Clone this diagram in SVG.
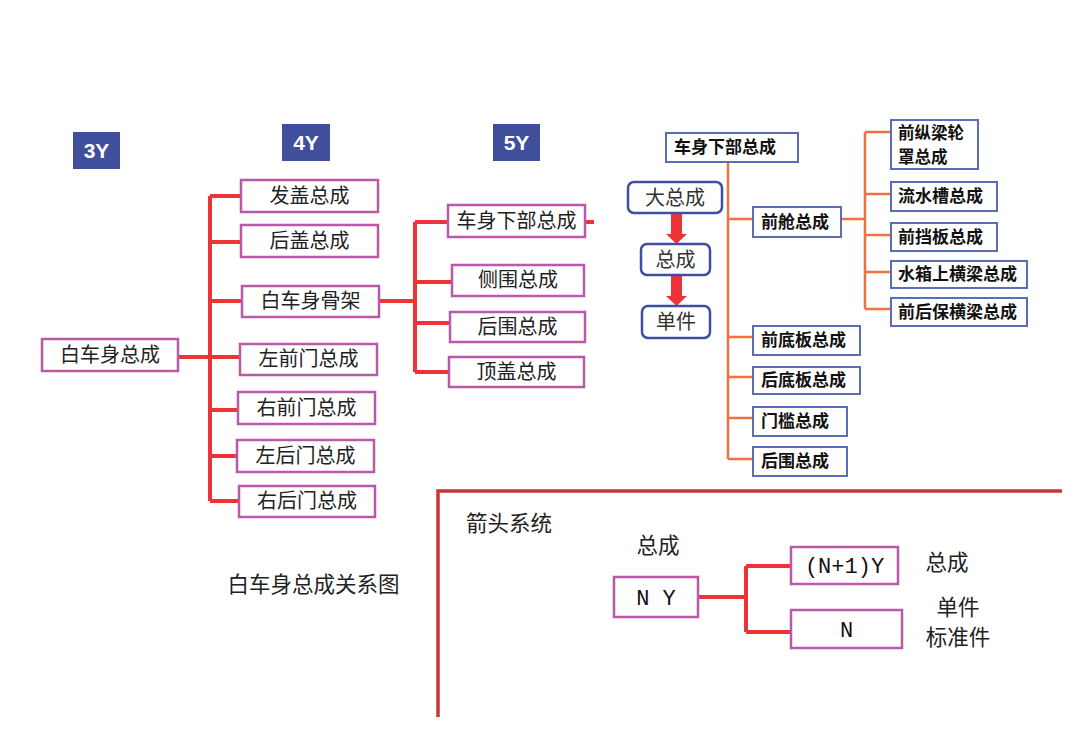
<svg xmlns="http://www.w3.org/2000/svg" width="1080" height="748" viewBox="0 0 1080 748">
<style>
text{font-family:"Noto Sans CJK SC","Liberation Sans",sans-serif;fill:#222}
.mb{fill:#fff;stroke:#b95aa6;stroke-width:2.5}
.bb{fill:#fff;stroke:#5b6db5;stroke-width:2}
.fb{fill:#fff;stroke:#3d4f9e;stroke-width:2.5}
.badge{fill:#3f4f9b}
.bt{font-family:"Liberation Sans",sans-serif;font-weight:bold;font-size:21px;fill:#fff}
.t20{font-size:20px;text-anchor:middle}
.t21{font-size:21.5px;text-anchor:middle}
.tb{font-size:17px;font-weight:bold;fill:#111}
.mono{font-family:"Liberation Mono","DejaVu Sans Mono",monospace;font-size:22px;fill:#111;text-anchor:middle}
.red{stroke:#ee3338;stroke-width:4;fill:none}
.org{stroke:#f07040;stroke-width:2.5;fill:none}
.frame{stroke:#c8363d;stroke-width:3.5;fill:none}
</style>
<g id="connectors">
<path class="red" d="M178 357H240M210 196V501M210 196H241M210 242H241M210 301H242M210 410H238M210 456H237M210 501H239"/>
<path class="red" d="M379 301H415M415 222V372M415 222H448M415 282H452M415 323H450M415 372H449M585 222H594"/>
<path class="org" d="M728 162V459M728 219H753M728 337H753M728 377H753M728 418H753M728 459H753M841 219H865M865 132V309M865 132H891M865 194H891M865 235H891M865 272H891M865 309H891"/>
<path class="red" d="M698 597H746M746 566V632M746 566H791M746 632H791"/>
<path fill="#ee3338" d="M671 213H682V234H687L676.5 244L666 234H671Z M671 275H682V296H687L676.5 306L666 296H671Z"/>
</g>
<g id="badge-3y"><rect class="badge" x="73" y="132" width="47" height="37"/><text class="bt" x="96.5" y="158" text-anchor="middle">3Y</text></g>
<g id="badge-4y"><rect class="badge" x="282" y="124" width="48" height="37"/><text class="bt" x="306" y="150" text-anchor="middle">4Y</text></g>
<g id="badge-5y"><rect class="badge" x="493" y="124" width="47" height="37"/><text class="bt" x="516.5" y="150" text-anchor="middle">5Y</text></g>
<g id="n-baicheshen"><rect class="mb" x="42" y="339" width="136" height="32"/><text class="t20" x="110" y="362">白车身总成</text></g>
<g id="n-fagai"><rect class="mb" x="241" y="180" width="137" height="32"/><text class="t20" x="309.5" y="203">发盖总成</text></g>
<g id="n-hougai"><rect class="mb" x="241" y="225" width="137" height="32"/><text class="t20" x="309.5" y="248">后盖总成</text></g>
<g id="n-gujia"><rect class="mb" x="242" y="286" width="137" height="31"/><text class="t20" x="310.5" y="308">白车身骨架</text></g>
<g id="n-zqm"><rect class="mb" x="240" y="344" width="137" height="31"/><text class="t20" x="308.5" y="366">左前门总成</text></g>
<g id="n-yqm"><rect class="mb" x="238" y="392" width="137" height="32"/><text class="t20" x="306.5" y="415">右前门总成</text></g>
<g id="n-zhm"><rect class="mb" x="237" y="440" width="137" height="32"/><text class="t20" x="305.5" y="463">左后门总成</text></g>
<g id="n-yhm"><rect class="mb" x="239" y="486" width="136" height="31"/><text class="t20" x="307" y="508">右后门总成</text></g>
<g id="n-xiabu"><rect class="mb" x="448" y="205" width="137" height="32"/><text class="t20" x="516.5" y="228">车身下部总成</text></g>
<g id="n-cewei"><rect class="mb" x="452" y="265" width="132" height="31"/><text class="t20" x="518" y="287">侧围总成</text></g>
<g id="n-houwei"><rect class="mb" x="450" y="312" width="135" height="30"/><text class="t20" x="517.5" y="334">后围总成</text></g>
<g id="n-dinggai"><rect class="mb" x="449" y="357" width="135" height="30"/><text class="t20" x="516.5" y="379">顶盖总成</text></g>
<g id="r-xiabu"><rect class="bb" x="666" y="133" width="132" height="29"/><text class="tb" x="674" y="153">车身下部总成</text></g>
<g id="r-qiancang"><rect class="bb" x="753" y="207" width="88" height="30"/><text class="tb" x="761" y="228">前舱总成</text></g>
<g id="r-zongliang"><rect class="bb" x="891" y="120" width="87" height="49"/><text class="tb" style="font-size:16.5px"><tspan x="898" y="139">前纵梁轮</tspan><tspan x="898" y="163">罩总成</tspan></text></g>
<g id="r-liushui"><rect class="bb" x="891" y="182" width="106" height="29"/><text class="tb" x="898" y="202">流水槽总成</text></g>
<g id="r-dangban"><rect class="bb" x="891" y="223" width="106" height="28"/><text class="tb" x="898" y="243">前挡板总成</text></g>
<g id="r-shuixiang"><rect class="bb" x="891" y="261" width="136" height="27"/><text class="tb" x="898" y="280">水箱上横梁总成</text></g>
<g id="r-baoxian"><rect class="bb" x="891" y="298" width="136" height="28"/><text class="tb" x="898" y="318">前后保横梁总成</text></g>
<g id="r-qiandi"><rect class="bb" x="753" y="326" width="107" height="29"/><text class="tb" x="761" y="346">前底板总成</text></g>
<g id="r-houdi"><rect class="bb" x="753" y="367" width="107" height="27"/><text class="tb" x="761" y="386">后底板总成</text></g>
<g id="r-menkan"><rect class="bb" x="753" y="407" width="94" height="29"/><text class="tb" x="761" y="427">门槛总成</text></g>
<g id="r-houwei"><rect class="bb" x="753" y="447" width="94" height="29"/><text class="tb" x="761" y="467">后围总成</text></g>
<g id="f-da"><rect class="fb" x="628" y="182" width="94" height="31" rx="6"/><text class="t20" x="675" y="205" style="fill:#333">大总成</text></g>
<g id="f-zc"><rect class="fb" x="641" y="244" width="69" height="31" rx="6"/><text class="t20" x="675.5" y="267" style="fill:#333">总成</text></g>
<g id="f-dj"><rect class="fb" x="642" y="306" width="68" height="32" rx="6"/><text class="t20" x="676" y="329" style="fill:#333">单件</text></g>
<text class="t21" x="313.5" y="592">白车身总成关系图</text>
<g id="legend">
<path class="frame" d="M438 717V491H1062"/>
<text x="466" y="531" style="font-size:21.5px">箭头系统</text>
<text class="t21" x="658" y="553">总成</text>
<g id="l-ny"><rect class="mb" x="614" y="577" width="84" height="40"/><text class="mono" x="656" y="605">N Y</text></g>
<g id="l-n1y"><rect class="mb" x="791" y="547" width="107" height="37"/><text class="mono" x="844.5" y="573">(N+1)Y</text></g>
<g id="l-n"><rect class="mb" x="791" y="610" width="111" height="38"/><text class="mono" x="846.5" y="637">N</text></g>
<text class="t21" x="947" y="570">总成</text>
<text class="t21" x="958" y="615">单件</text>
<text class="t21" x="958" y="645">标准件</text>
</g>
</svg>
